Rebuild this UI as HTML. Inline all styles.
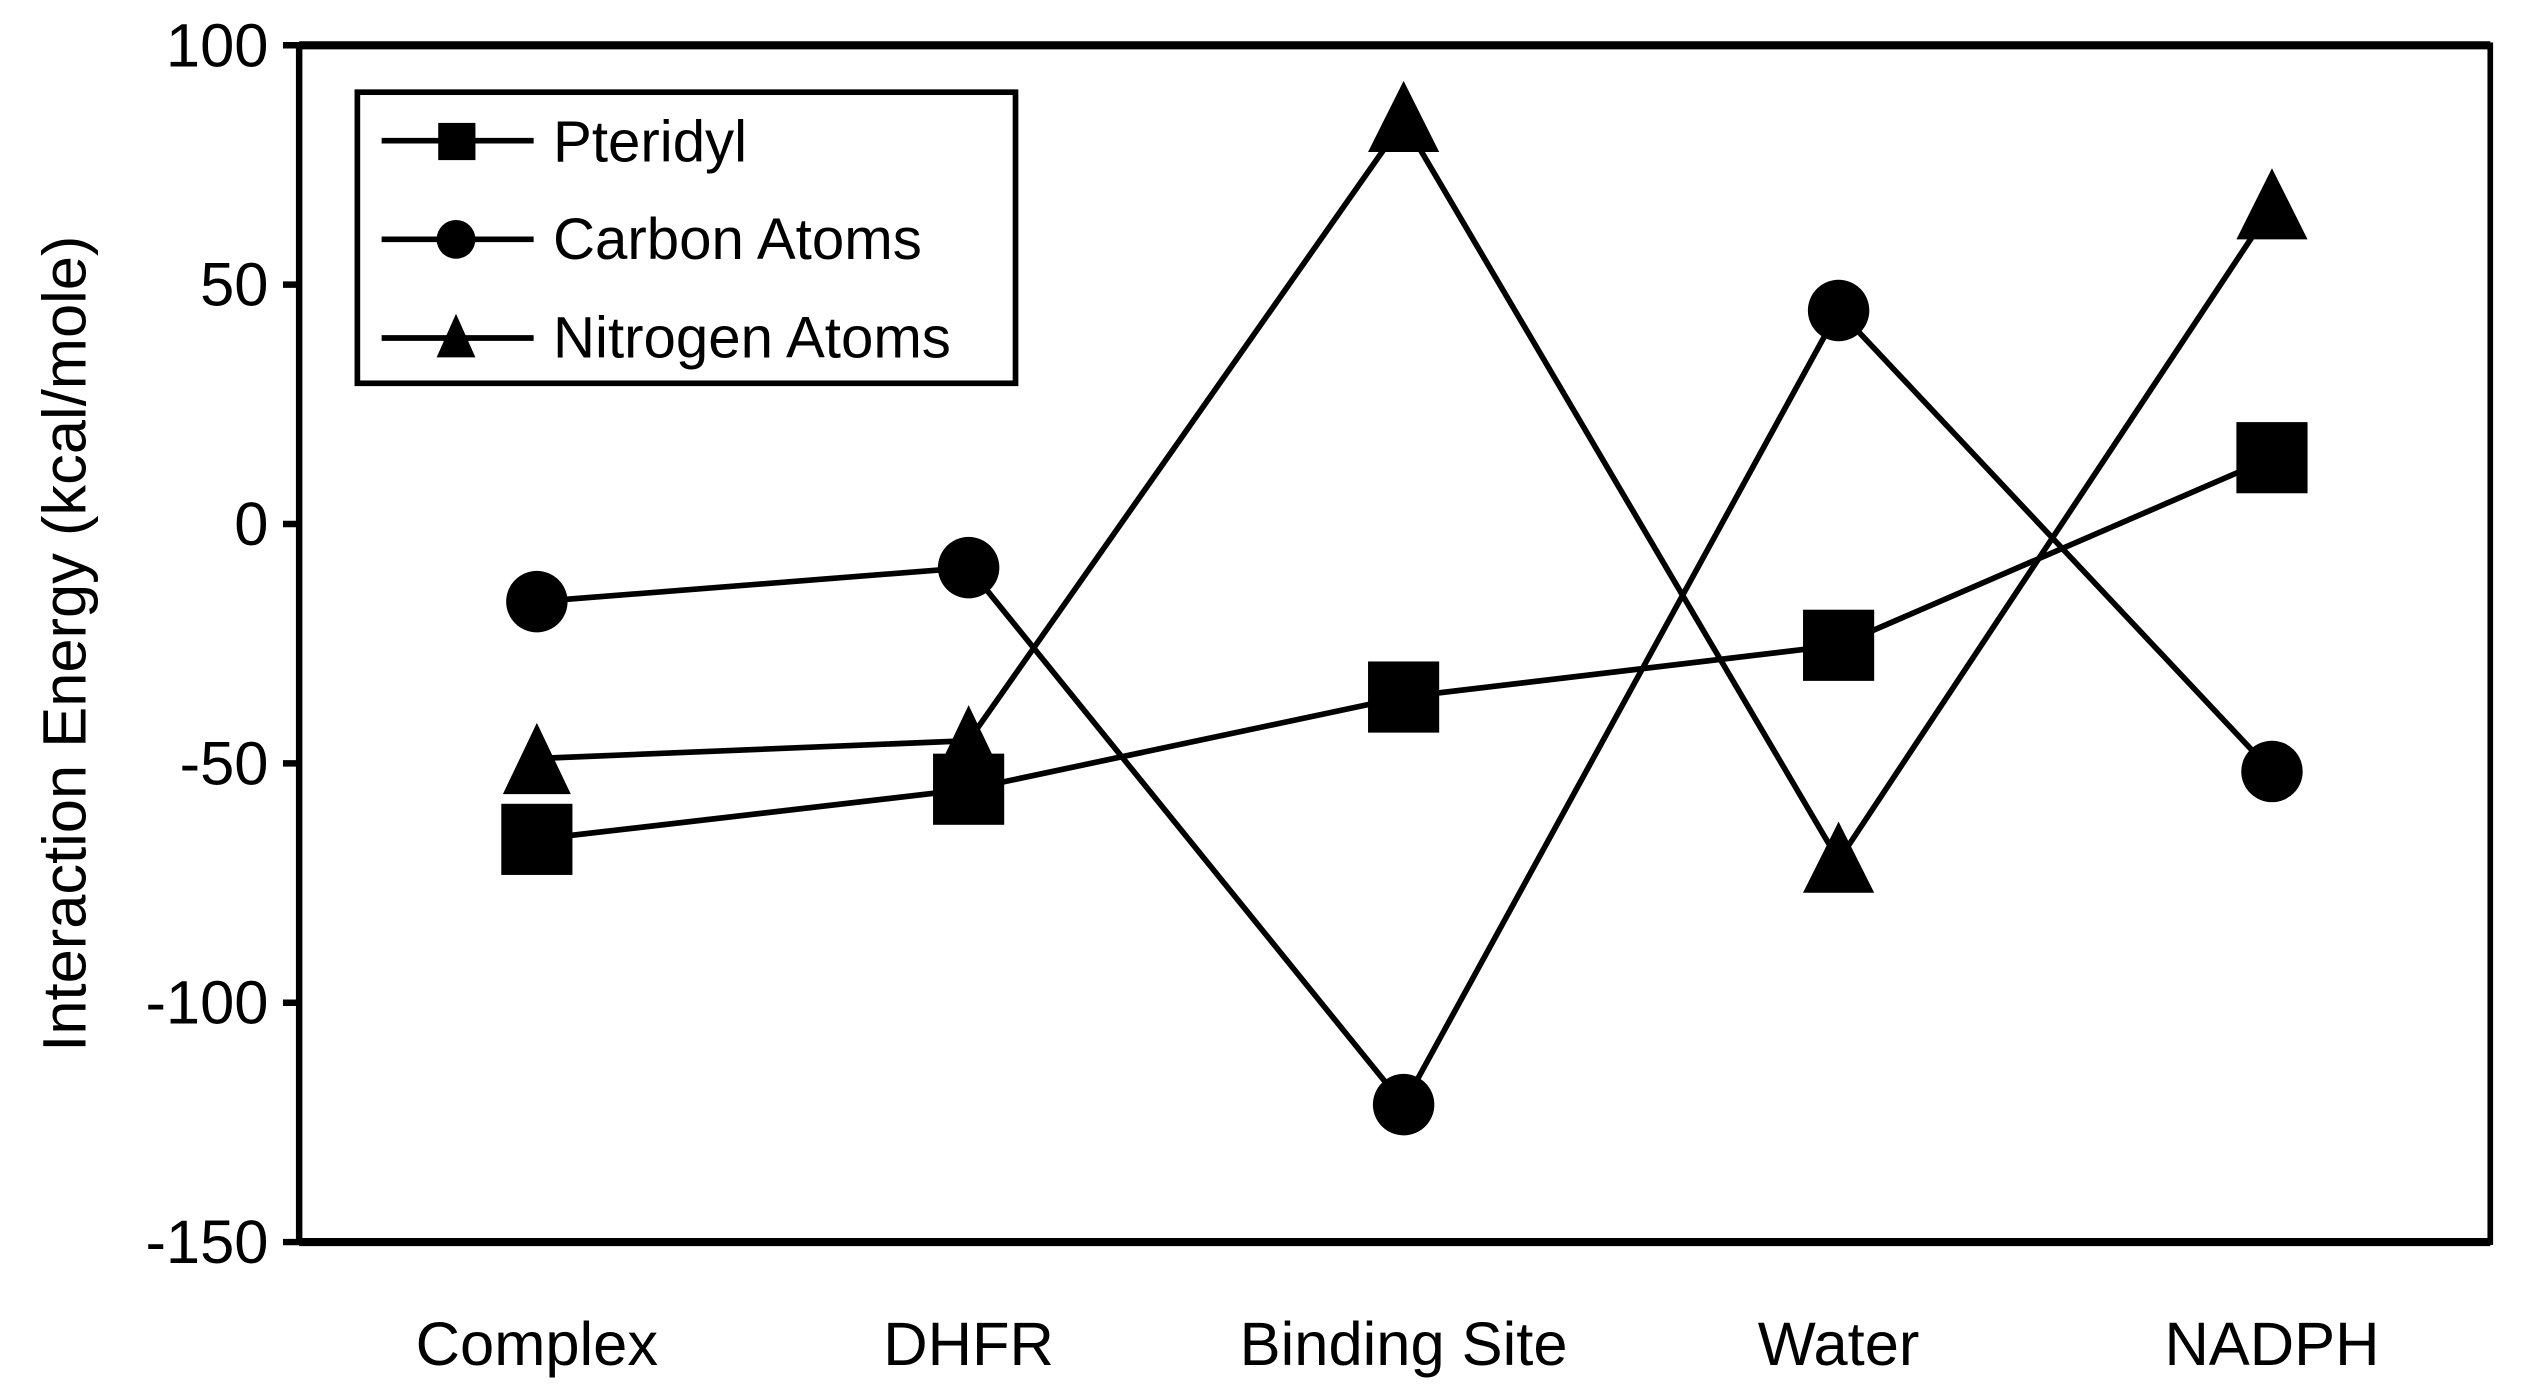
<!DOCTYPE html>
<html><head><meta charset="utf-8"><style>
html,body{margin:0;padding:0;background:#fff;}
svg{display:block;}
text{font-family:"Liberation Sans",Arial,sans-serif;fill:#000;}
</style></head><body>
<svg width="2521" height="1386" viewBox="0 0 1559 857" preserveAspectRatio="none" xmlns="http://www.w3.org/2000/svg">
<rect width="1559" height="857" fill="#fff"/>
<!-- frame -->
<rect x="185" y="28" width="1355" height="740" fill="none" stroke="#000" stroke-width="3.5"/>
<line x1="185" y1="28" x2="1540" y2="28" stroke="#000" stroke-width="5"/>
<line x1="185" y1="768" x2="1540" y2="768" stroke="#000" stroke-width="5"/>
<line x1="185" y1="28" x2="185" y2="768" stroke="#000" stroke-width="4"/>
<!-- ticks -->
<g stroke="#000" stroke-width="4">
<line x1="175" y1="28" x2="185" y2="28"/>
<line x1="175" y1="176" x2="185" y2="176"/>
<line x1="175" y1="324" x2="185" y2="324"/>
<line x1="175" y1="472" x2="185" y2="472"/>
<line x1="175" y1="620" x2="185" y2="620"/>
<line x1="175" y1="768" x2="185" y2="768"/>
</g>
<g font-size="38" text-anchor="end">
<text x="166" y="41">100</text>
<text x="166" y="189">50</text>
<text x="166" y="337">0</text>
<text x="166" y="485">-50</text>
<text x="166" y="633">-100</text>
<text x="166" y="781">-150</text>
</g>
<text transform="translate(53,398) rotate(-90)" font-size="38" text-anchor="middle">Interaction Energy (kcal/mole)</text>
<g font-size="38" text-anchor="middle">
<text x="332" y="844">Complex</text>
<text x="599" y="844">DHFR</text>
<text x="868" y="844">Binding Site</text>
<text x="1137" y="844">Water</text>
<text x="1405" y="844">NADPH</text>
</g>
<!-- lines -->
<g fill="none" stroke="#000" stroke-width="3.5">
<polyline points="332,519 599,488 868,431 1137,399 1405,283"/>
<polyline points="332,372 599,351 868,683 1137,192 1405,477"/>
<polyline points="332,469 599,458 868,75 1137,532 1405,128"/>
</g>
<!-- squares -->
<g fill="#000">
<rect x="310" y="497" width="44" height="44"/>
<rect x="577" y="466" width="44" height="44"/>
<rect x="846" y="409" width="44" height="44"/>
<rect x="1115" y="377" width="44" height="44"/>
<rect x="1383" y="261" width="44" height="44"/>
<!-- circles -->
<circle cx="332" cy="372" r="19"/>
<circle cx="599" cy="351" r="19"/>
<circle cx="868" cy="683" r="19"/>
<circle cx="1137" cy="192" r="19"/>
<circle cx="1405" cy="477" r="19"/>
<!-- triangles -->
<polygon points="332,447 311,491 353,491"/>
<polygon points="599,436 578,480 620,480"/>
<polygon points="868,50 846,94 890,94"/>
<polygon points="1137,508 1115,552 1159,552"/>
<polygon points="1405,104 1383,148 1427,148"/>
</g>
<!-- legend -->
<rect x="221" y="57" width="407" height="180" fill="#fff" stroke="#000" stroke-width="3.5"/>
<g stroke="#000" stroke-width="3.5">
<line x1="236" y1="87" x2="330" y2="87"/>
<line x1="236" y1="148" x2="330" y2="148"/>
<line x1="236" y1="209" x2="330" y2="209"/>
</g>
<g fill="#000">
<rect x="271" y="76" width="23" height="23"/>
<circle cx="282" cy="148" r="12"/>
<polygon points="282,194 270,221 294,221"/>
</g>
<g font-size="36">
<text x="342" y="100">Pteridyl</text>
<text x="342" y="160">Carbon Atoms</text>
<text x="342" y="221">Nitrogen Atoms</text>
</g>
</svg>
</body></html>
